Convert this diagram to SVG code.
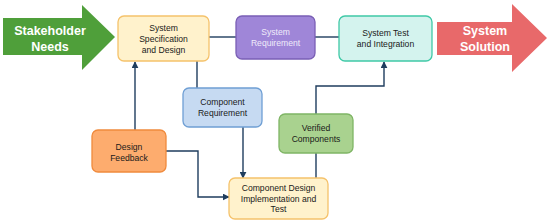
<svg xmlns="http://www.w3.org/2000/svg" width="550" height="224" viewBox="0 0 550 224">
<defs>
<style>
.n{stroke-width:1.3}
.t{font-family:"Liberation Sans",Arial,sans-serif;font-size:8.6px;fill:#1a1a1a;text-anchor:middle}
.w{fill:#efebfa}
.big{font-family:"Liberation Sans",Arial,sans-serif;font-size:12.5px;font-weight:bold;fill:#ffffff;text-anchor:middle}
.c{fill:none;stroke:#1f3d5e;stroke-width:1.4}
</style>
<marker id="ah" viewBox="0 0 10 10" refX="9" refY="5" markerWidth="7" markerHeight="7" orient="auto" markerUnits="userSpaceOnUse">
<path d="M0,0 L10,5 L0,10 z" fill="#1f3d5e"/>
</marker>
</defs>
<rect width="550" height="224" fill="#ffffff"/>
<g id="stakeholder-needs">
<polygon points="3,18 82,18 82,5 115,37 82,70 82,55 3,55" fill="#4f9f3a"/>
<text class="big" x="50" y="35">Stakeholder</text>
<text class="big" x="50" y="51">Needs</text>
</g>
<g id="system-solution">
<polygon points="437,22 512,22 512,4 547,38 512,72 512,55 437,55" fill="#e8696a"/>
<text class="big" x="485" y="35">System</text>
<text class="big" x="485" y="51">Solution</text>
</g>
<g id="connectors">
<path class="c" d="M209,37 H236"/>
<path class="c" d="M315,37 H339"/>
<path class="c" d="M197,61 V88"/>
<path class="c" d="M243,127 V178" marker-end="url(#ah)"/>
<path class="c" d="M135,130 V62" marker-end="url(#ah)"/>
<path class="c" d="M166,151 H198 V197 H229" marker-end="url(#ah)"/>
<path class="c" d="M316,178 V153"/>
<path class="c" d="M316,114 V86 H384 V62" marker-end="url(#ah)"/>
</g>
<g id="system-spec">
<rect class="n" x="118" y="16" width="91" height="45" rx="6" fill="#fff2cc" stroke="#f5c26b"/>
<text class="t" x="163.5" y="31">System</text>
<text class="t" x="163.5" y="42">Specification</text>
<text class="t" x="163.5" y="53">and Design</text>
</g>
<g id="system-requirement">
<rect class="n" x="236" y="16" width="79" height="43" rx="6" fill="#9f86d8" stroke="#7a5fb5"/>
<text class="t w" x="275.5" y="35">System</text>
<text class="t w" x="275.5" y="46">Requirement</text>
</g>
<g id="system-test">
<rect class="n" x="339" y="16" width="93" height="45" rx="6" fill="#d4f3ee" stroke="#3fc9a7"/>
<text class="t" x="385.5" y="36">System Test</text>
<text class="t" x="385.5" y="47">and Integration</text>
</g>
<g id="component-requirement">
<rect class="n" x="183" y="88" width="79" height="39" rx="6" fill="#c6daf2" stroke="#6f9fd4"/>
<text class="t" x="222.5" y="105">Component</text>
<text class="t" x="222.5" y="116">Requirement</text>
</g>
<g id="design-feedback">
<rect class="n" x="92" y="130" width="74" height="42" rx="6" fill="#fdac6e" stroke="#f08a3c"/>
<text class="t" x="129" y="150">Design</text>
<text class="t" x="129" y="161">Feedback</text>
</g>
<g id="verified-components">
<rect class="n" x="279" y="114" width="74" height="39" rx="6" fill="#a9d28f" stroke="#7fb565"/>
<text class="t" x="316" y="131">Verified</text>
<text class="t" x="316" y="142">Components</text>
</g>
<g id="component-design">
<rect class="n" x="229" y="178" width="99" height="41" rx="6" fill="#fff2cc" stroke="#f5c26b"/>
<text class="t" x="278.5" y="191">Component Design</text>
<text class="t" x="278.5" y="202">Implementation and</text>
<text class="t" x="278.5" y="212">Test</text>
</g>
</svg>
